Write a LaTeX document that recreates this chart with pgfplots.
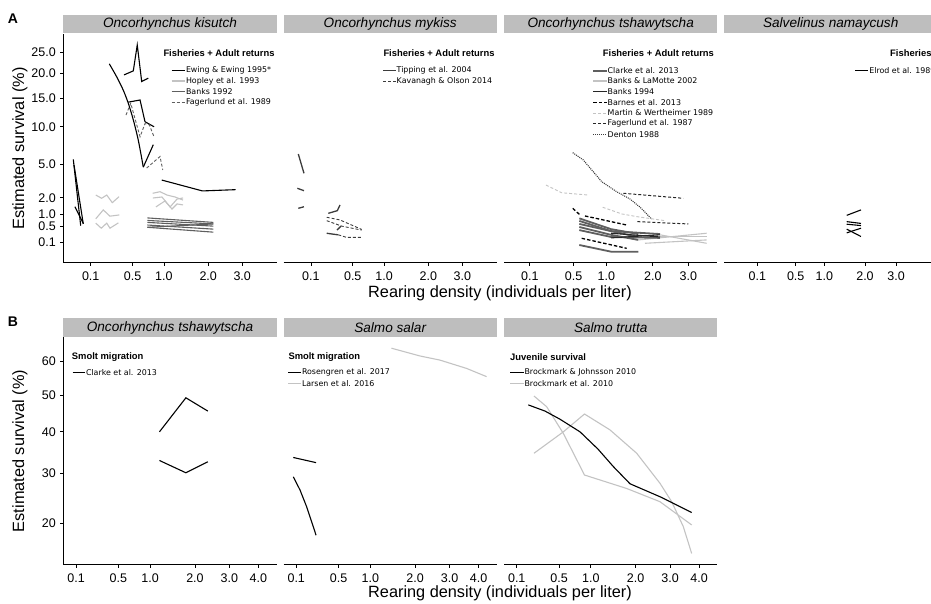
\documentclass[border=0pt]{standalone}
\usepackage{pgfplots}
\pgfplotsset{compat=1.18}
\usepackage{fontspec}
\setmainfont{Liberation Sans}
\newfontfamily\legfont{DejaVu Sans}

\definecolor{stripgrey}{RGB}{190,190,190}
\definecolor{lgrey}{RGB}{195,195,195}
\definecolor{mgrey}{RGB}{95,95,95}
\definecolor{dgrey}{RGB}{60,60,60}

\tikzset{
  ewing/.style={black, line width=1.1pt},
  hopley/.style={lgrey, line width=1.1pt},
  banksA/.style={mgrey, line width=1.1pt},
  fagerA/.style={mgrey, line width=0.9pt, dash pattern=on 3pt off 2pt},
  tipping/.style={dgrey, line width=1.3pt},
  kavanagh/.style={dgrey, line width=0.9pt, dash pattern=on 3pt off 2pt},
  clarkeA/.style={mgrey, line width=1.8pt},
  lamotte/.style={lgrey, line width=1.1pt},
  banksB/.style={black!85, line width=1.1pt},
  barnes/.style={black, line width=1.3pt, dash pattern=on 3.5pt off 2pt},
  martin/.style={lgrey, line width=0.9pt, dash pattern=on 3pt off 2pt},
  fagerB/.style={black!85, line width=1pt, dash pattern=on 3pt off 2pt},
  denton/.style={dgrey, line width=1.1pt, dash pattern=on 1pt off 1pt},
  blk/.style={black, line width=1.1pt},
  lg/.style={lgrey, line width=1.1pt},
}

\pgfplotsset{
  panel/.style={
    scale only axis, width=213.4pt, anchor=south west,
    x coord trafo/.code={\pgfmathparse{(##1<0?-1:1)*sqrt(abs(##1))}},
    x coord inv trafo/.code={\pgfmathparse{##1*abs(##1)}},
    y coord trafo/.code={\pgfmathparse{(##1<0?-1:1)*sqrt(abs(##1))}},
    y coord inv trafo/.code={\pgfmathparse{##1*abs(##1)}},
    axis x line*=bottom,
    axis line style={line width=0.9pt, -},
    tick style={line width=0.7pt, black},
    major tick length=3pt, tick align=outside,
    tick label style={font=\fontsize{12.5}{12.5}\selectfont},
    xticklabel style={yshift=-3pt},
    yticklabel style={xshift=-1pt},
  },
  rowA/.style={panel, height=228.7pt, ymin=-0.0348, ymax=29.67,
    xtick={0.1,0.5,1,2,3}, xticklabels={0.1,0.5,1.0,2.0,3.0}},
  rowB/.style={panel, height=227.7pt, ymin=13.2, ymax=68.0,
    xmin=0.0394, xmax=4.705,
    xtick={0.1,0.5,1,2,3,4}, xticklabels={0.1,0.5,1.0,2.0,3.0,4.0}},
  firstA/.style={axis y line*=left,
    ytick={0.1,0.5,1,2,5,10,15,20,25},
    yticklabels={0.1,0.5,1.0,2.0,5.0,10.0,15.0,20.0,25.0}},
  firstB/.style={axis y line*=left,
    ytick={20,30,40,50,60}, yticklabels={20,30,40,50,60}},
  other/.style={axis y line=none, ytick=\empty},
}

\newcommand{\lgtitle}[3]{\node[anchor=west, inner sep=0pt, font=\bfseries\fontsize{9.4}{9.4}\selectfont] at (#1,#2) {#3};}
\newcommand{\lgent}[5]{\draw[#4] (#1,#3) -- (#2,#3);
  \node[anchor=west, inner sep=0pt, font=\legfont\fontsize{7.9}{7.9}\selectfont] at (#2+0.8,#3) {#5};}
\newcommand{\strip}[4]{\fill[stripgrey] (#1,#3) rectangle (#2,#3+18.3);
  \node[font=\itshape\fontsize{13.6}{13.6}\selectfont] at ({(#1+#2)/2},#3+9.2) {#4};}

\begin{document}
\begin{tikzpicture}[x=1pt,y=1pt]

% ---------------- row A ----------------
\begin{axis}[rowA, firstA, at={(63.3pt,341.3pt)}, xmin=0.00358, xmax=4.220]
% Ewing & Ewing 1995*
\addplot[ewing, smooth] coordinates {(0.240,22.2) (0.312,19.3) (0.385,16.5) (0.445,14.0) (0.510,11.1) (0.579,8.0) (0.652,4.7)};
\addplot[ewing] coordinates {(0.652,4.7) (0.812,7.4)};
\addplot[ewing] coordinates {(0.393,19.7) (0.510,20.6) (0.564,26.8) (0.628,18.3) (0.730,19.0)};
\addplot[ewing] coordinates {(0.445,14.2) (0.604,14.6) (0.678,10.8) (0.824,10.0)};
\addplot[ewing] coordinates {(0.960,3.42) (1.85,2.50) (2.79,2.60)};
\addplot[ewing] coordinates {(0.0235,5.57) (0.0495,0.525)};
\addplot[ewing] coordinates {(0.0256,4.93) (0.0609,0.59)};
\addplot[ewing] coordinates {(0.0286,1.42) (0.0609,0.61)};
% Fagerlund et al. 1989
\addplot[fagerA] coordinates {(0.417,11.9) (0.476,14.0) (0.604,8.5) (0.678,10.5) (0.746,10.3) (0.824,8.5)};
\addplot[fagerA] coordinates {(0.704,4.6) (0.929,5.9) (0.979,4.4)};
% Hopley et al. 1993
\addplot[hopley] coordinates {(0.132,2.19) (0.175,1.96) (0.217,2.19) (0.268,1.67) (0.337,2.07)};
\addplot[hopley] coordinates {(0.132,0.80) (0.188,1.24) (0.246,0.92) (0.340,0.98)};
\addplot[hopley] coordinates {(0.132,0.62) (0.172,0.44) (0.217,0.62) (0.246,0.44) (0.330,0.63)};
\addplot[hopley] coordinates {(0.801,2.32) (0.929,2.44) (1.059,2.19) (1.219,2.05) (1.39,1.84)};
\addplot[hopley] coordinates {(0.805,1.98) (0.964,2.05) (1.12,1.41) (1.262,1.91) (1.39,1.98)};
\addplot[hopley] coordinates {(0.857,1.41) (1.02,1.78) (1.157,1.29) (1.262,1.59) (1.39,1.53)};
% Banks 1992
\addplot[banksA] coordinates {(0.714,0.84) (2.138,0.65)};
\addplot[banksA] coordinates {(0.714,0.73) (2.138,0.59)};
\addplot[banksA] coordinates {(0.714,0.65) (2.138,0.51)};
\addplot[banksA] coordinates {(0.714,0.55) (2.138,0.41)};
\addplot[banksA] coordinates {(0.714,0.47) (2.138,0.32)};
\addplot[banksA] coordinates {(0.714,0.47) (2.138,0.59)};
\end{axis}

\begin{axis}[rowA, other, at={(283.5pt,341.3pt)}, xmin=0.00358, xmax=4.220]
% Tipping et al. 2004
\addplot[tipping] coordinates {(0.0393,6.20) (0.0632,4.06)};
\addplot[tipping] coordinates {(0.0358,2.71) (0.0632,2.52)};
\addplot[tipping] coordinates {(0.0393,1.33) (0.0632,1.42)};
\addplot[tipping] coordinates {(0.229,1.06) (0.317,1.20) (0.346,1.53)};
\addplot[tipping] coordinates {(0.215,0.29) (0.324,0.25)};
\addplot[tipping] coordinates {(0.313,0.38) (0.357,0.51)};
% Kavanagh & Olson 2014
\addplot[kavanagh] coordinates {(0.215,0.87) (0.346,0.75) (0.625,0.40)};
\addplot[kavanagh] coordinates {(0.215,0.72) (0.365,0.51) (0.625,0.38)};
\addplot[kavanagh] coordinates {(0.327,0.25) (0.423,0.19) (0.640,0.19)};
\end{axis}

\begin{axis}[rowA, other, at={(504pt,341.3pt)}, xmin=0.00735, xmax=3.965]
% Denton 1988
\addplot[denton] coordinates {(0.489,6.37) (0.630,5.49) (0.918,3.27) (1.192,2.44) (1.466,1.91) (1.690,1.40) (1.972,0.79)};
% Martin & Wertheimer 1989
\addplot[martin] coordinates {(0.212,2.98) (0.361,2.36) (0.703,2.19)};
\addplot[martin] coordinates {(0.935,1.39) (1.292,1.03) (1.614,0.90) (2.32,0.72)};
% Fagerlund et al. 1987
\addplot[fagerB] coordinates {(1.325,2.32) (2.84,1.96)};
\addplot[fagerB] coordinates {(1.628,0.68) (2.997,0.59)};
% Barnes et al. 2013
\addplot[barnes] coordinates {(0.654,0.93) (1.395,0.55)};
\addplot[barnes] coordinates {(0.607,0.172) (1.395,0.028)};
\addplot[barnes] coordinates {(0.489,1.33) (0.584,0.98)};
% Banks & LaMotte 2002
\addplot[lamotte] coordinates {(1.651,0.14) (3.59,0.29)};
\addplot[lamotte] coordinates {(1.808,0.085) (3.59,0.14)};
\addplot[lamotte] coordinates {(2.186,0.25) (3.59,0.085)};
\addplot[lamotte] coordinates {(2.186,0.22) (3.59,0.22)};
% Clarke et al. 2013
\addplot[clarkeA] coordinates {(0.575,0.82) (1.084,0.41) (1.651,0.27)};
\addplot[clarkeA] coordinates {(0.575,0.71) (1.084,0.35) (1.651,0.20)};
\addplot[clarkeA] coordinates {(0.575,0.59) (1.084,0.35) (2.186,0.27)};
\addplot[clarkeA] coordinates {(0.575,0.48) (1.084,0.25) (1.651,0.14)};
\addplot[clarkeA] coordinates {(0.575,0.38) (1.084,0.20) (2.186,0.18)};
\addplot[clarkeA] coordinates {(0.575,0.062) (1.09,0.007) (1.651,0.007)};
% Banks 1994
\addplot[banksB] coordinates {(1.084,0.18) (2.186,0.25)};
\addplot[banksB] coordinates {(1.084,0.29) (2.186,0.20)};
\end{axis}

\begin{axis}[rowA, other, at={(724pt,341.3pt)}, xmin=-0.0006, xmax=4.636]
% Elrod et al. 1989
\addplot[ewing] coordinates {(1.507,0.96) (1.886,1.24)};
\addplot[ewing] coordinates {(1.507,0.68) (1.886,0.61)};
\addplot[ewing] coordinates {(1.507,0.58) (1.886,0.53)};
\addplot[ewing] coordinates {(1.507,0.30) (1.886,0.44)};
\addplot[ewing] coordinates {(1.507,0.41) (1.886,0.21)};
\end{axis}

% ---------------- row B ----------------
\begin{axis}[rowB, firstB, at={(63.3pt,39.3pt)}]
% Clarke et al. 2013
\addplot[blk] coordinates {(1.18,40.0) (1.77,49.2) (2.35,45.5)};
\addplot[blk] coordinates {(1.18,33.0) (1.77,30.2) (2.35,32.7)};
\end{axis}

\begin{axis}[rowB, other, at={(283.5pt,39.3pt)}]
% Rosengren et al. 2017
\addplot[blk] coordinates {(0.0835,33.7) (0.249,32.5)};
\addplot[blk] coordinates {(0.0835,29.3) (0.123,26.5) (0.170,23.1) (0.224,19.4) (0.249,17.9)};
% Larsen et al. 2016
\addplot[lg] coordinates {(1.43,64.3) (2.13,61.8) (2.70,60.5) (3.57,57.9) (4.30,55.4)};
\end{axis}

\begin{axis}[rowB, other, at={(504pt,39.3pt)}]
% Brockmark et al. 2010
\addplot[lg] coordinates {(0.226,34.7) (0.557,40.0) (0.887,44.7) (1.386,40.5) (2.027,34.7) (2.686,27.9) (3.052,24.1) (3.438,19.4) (3.731,14.9)};
\addplot[lg] coordinates {(0.226,49.7) (0.351,46.7) (0.557,39.6) (0.887,29.7) (1.773,26.8) (2.686,24.1) (3.731,19.7)};
% Brockmark & Johnsson 2010
\addplot[blk] coordinates {(0.179,47.2) (0.333,45.5) (0.512,43.3) (0.811,40.0) (1.137,35.7) (1.459,31.6) (1.855,27.8) (2.686,25.1) (3.731,22.0)};
\end{axis}

% ---------------- strips ----------------
\strip{63.3}{276.7}{570.7}{Oncorhynchus kisutch}
\strip{283.5}{496.9}{570.7}{Oncorhynchus mykiss}
\strip{504}{717.4}{570.7}{Oncorhynchus tshawytscha}
\strip{724}{937.4}{570.7}{Salvelinus namaycush}
\strip{63.3}{276.7}{267.3}{Oncorhynchus tshawytscha}
\strip{283.5}{496.9}{267.3}{Salmo salar}
\strip{504}{717.4}{267.3}{Salmo trutta}

% ---------------- legends ----------------
\lgtitle{163.3}{551}{Fisheries + Adult returns}
\lgent{171.7}{185}{533.3}{ewing}{Ewing \& Ewing 1995*}
\lgent{171.7}{185}{523}{hopley}{Hopley et al. 1993}
\lgent{171.7}{185}{512.3}{banksA}{Banks 1992}
\lgent{171.7}{185}{501.7}{fagerA}{Fagerlund et al. 1989}

\lgtitle{383.3}{551}{Fisheries + Adult returns}
\lgent{383}{395.7}{533.3}{tipping}{Tipping et al. 2004}
\lgent{383}{395.7}{523}{kavanagh}{Kavanagh \& Olson 2014}

\lgtitle{602.7}{551}{Fisheries + Adult returns}
\lgent{593.3}{606.7}{533.3}{clarkeA}{Clarke et al. 2013}
\lgent{593.3}{606.7}{523}{lamotte}{Banks \& LaMotte 2002}
\lgent{593.3}{606.7}{512.3}{banksB}{Banks 1994}
\lgent{593.3}{606.7}{501.7}{barnes}{Barnes et al. 2013}
\lgent{593.3}{606.7}{491}{martin}{Martin \& Wertheimer 1989}
\lgent{593.3}{606.7}{480.7}{fagerB}{Fagerlund et al. 1987}
\lgent{593.3}{606.7}{469.3}{denton}{Denton 1988}

\lgtitle{890}{551}{Fisheries + Adult returns}
\lgent{855}{868.3}{533.3}{ewing}{Elrod et al. 1989}

\lgtitle{71.7}{247.3}{Smolt migration}
\lgent{72.7}{85}{231.3}{blk}{Clarke et al. 2013}

\lgtitle{288.3}{247.3}{Smolt migration}
\lgent{288.3}{301}{231.3}{blk}{Rosengren et al. 2017}
\lgent{288.3}{301}{220.7}{lg}{Larsen et al. 2016}

\lgtitle{510}{247.3}{Juvenile survival}
\lgent{510}{523.5}{231.3}{blk}{Brockmark \& Johnsson 2010}
\lgent{510}{523.5}{220.7}{lg}{Brockmark et al. 2010}

% ---------------- labels ----------------
\node[font=\bfseries\fontsize{14}{14}\selectfont] at (13,585) {A};
\node[font=\bfseries\fontsize{14}{14}\selectfont] at (13,282) {B};
\node[font=\fontsize{16.3}{16.3}\selectfont] at (500,311) {Rearing density (individuals per liter)};
\node[font=\fontsize{16.3}{16.3}\selectfont] at (500,11) {Rearing density (individuals per liter)};
\node[font=\fontsize{16.3}{16.3}\selectfont, rotate=90] at (20,455.5) {Estimated survival (\%)};
\node[font=\fontsize{16.3}{16.3}\selectfont, rotate=90] at (20,153) {Estimated survival (\%)};

\pgfresetboundingbox
\path[use as bounding box] (0,0) rectangle (931,604);
\end{tikzpicture}
\end{document}
